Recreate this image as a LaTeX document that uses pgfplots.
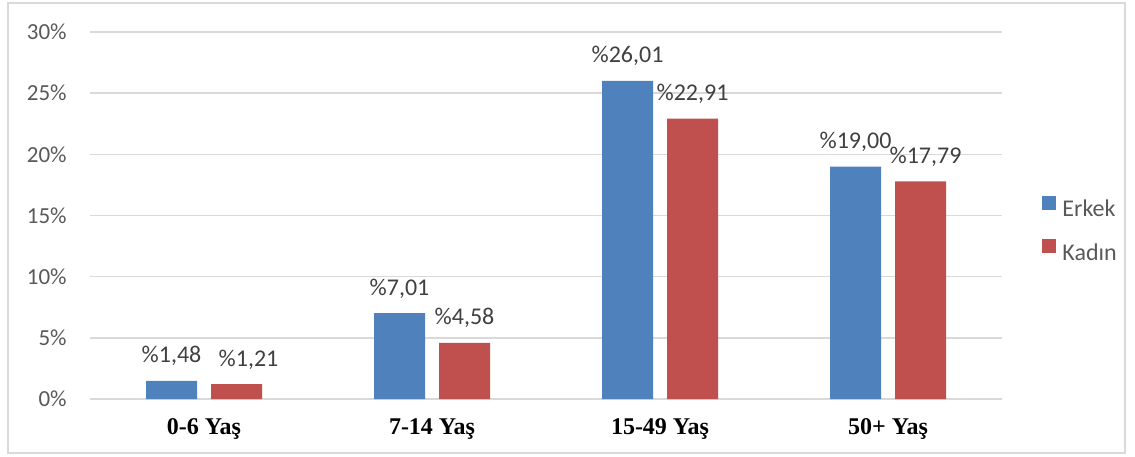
\documentclass[border=0pt]{standalone}
\usepackage{fontspec}
\setmainfont{Carlito}
\newfontfamily\tnr{Liberation Serif}
\usepackage{pgfplots}
\pgfplotsset{compat=1.18}
\definecolor{cblue}{HTML}{4F81BD}
\definecolor{cred}{HTML}{C0504D}
\definecolor{gridc}{HTML}{D9D9D9}
\definecolor{tickc}{HTML}{595959}
\definecolor{labc}{HTML}{404040}
\pgfplotsset{sqleg/.style={legend image code/.code={\fill[##1,draw=none] (0pt,0pt) rectangle (7pt,7pt);}}}
\begin{document}
\begin{tikzpicture}
\useasboundingbox (-45pt,-28.5pt) rectangle (522.5pt,199.5pt);
\draw[gridc, line width=0.75pt] (-41pt,-27pt) rectangle (517.5pt,198pt);
\begin{axis}[
  at={(0pt,0pt)}, anchor=south west,
  scale only axis, width=456pt, height=183.5pt,
  xmin=-0.5, xmax=3.5, ymin=0, ymax=30,
  ybar=7pt, bar width=25.5pt,
  axis x line=bottom, axis y line=left,
  x axis line style={gridc, line width=0.75pt, -},
  y axis line style={draw=none},
  major tick length=0pt,
  xtick={0,1,2,3},
  xticklabels={0-6 Yaş,7-14 Yaş,15-49 Yaş,50+ Yaş},
  xticklabel style={font=\tnr\bfseries\fontsize{12}{14}\selectfont, text=black, anchor=base, yshift=-17.5pt},
  ytick={0,5,10,15,20,25,30},
  yticklabels={0\%,5\%,10\%,15\%,20\%,25\%,30\%},
  yticklabel style={font=\fontsize{11.5}{13}\selectfont, text=tickc, anchor=east, inner sep=0pt, xshift=-11.5pt},
  ymajorgrids, grid style={gridc, line width=0.75pt},
  nodes near coords,
  point meta=explicit symbolic,
  every node near coord/.append style={font=\fontsize{12}{14}\selectfont, text=labc, anchor=base, yshift=9pt},
  legend style={at={(1.0439,0.462)}, anchor=west, draw=none, fill=none, inner sep=0pt,
    font=\fontsize{12}{14}\selectfont, text=tickc, row sep=10pt,
    nodes={inner sep=0pt}},
  legend cell align=left,
  /tikz/every even column/.style={column sep=0pt},
  /tikz/every odd column/.style={column sep=3pt},
  clip=false,
]
\addplot[fill=cblue, draw=none, sqleg] coordinates {(0,1.48) [{\%1,48}] (1,7.01) [{\%7,01}] (2,26.01) [{\%26,01}] (3,19.00) [{\%19,00}]};
\addplot[fill=cred, draw=none, sqleg] coordinates {(0,1.21) [{\hspace{12pt}\%1,21}] (1,4.58) [{\%4,58}] (2,22.91) [{\%22,91}] (3,17.79) [{\hspace{5pt}\%17,79}]};
\legend{Erkek,Kadın}
\end{axis}
\end{tikzpicture}
\end{document}
